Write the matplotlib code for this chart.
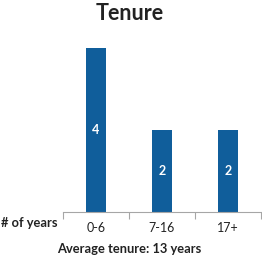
import matplotlib
matplotlib.use("Agg")
import matplotlib.pyplot as plt

categories = ["0-6", "7-16", "17+"]
counts = [4, 2, 2]
title = "Tenure"
ylabel_text = "# of years"
note = "Average tenure: 13 years"

plt.rcParams['font.family'] = ['Lato', 'DejaVu Sans']

fig = plt.figure(figsize=(2.62, 2.59), dpi=100)
ax = fig.add_axes([63 / 262, 47 / 259, 198 / 262, 164 / 259])

xs = range(len(categories))
bars = ax.bar(xs, counts, width=0.3, color="#105E9B")
for b, v in zip(bars, counts):
    ax.text(b.get_x() + b.get_width() / 2, v / 2, str(v),
            ha='center', va='center', color='white',
            fontsize=9, fontweight='bold')

ax.set_xlim(-0.5, 2.5)
ax.set_ylim(0, 4)
for s in ['top', 'right', 'left']:
    ax.spines[s].set_visible(False)
ax.spines['bottom'].set_color('#A6A6A6')
ax.spines['bottom'].set_linewidth(0.8)
ax.set_yticks([])

# category ticks sit between categories
ax.set_xticks([-0.5, 0.5, 1.5, 2.5])
ax.set_xticklabels([])
ax.tick_params(axis='x', direction='out', length=5, color='#A6A6A6', width=0.8)
ax.set_xticks(list(xs), minor=True)
ax.set_xticklabels(categories, minor=True, fontsize=9, color='#222222')
ax.tick_params(axis='x', which='minor', length=0, pad=7)

fig.text(130 / 262, 1 - 14 / 259, title, ha='center', va='center',
         fontsize=15.5, fontweight='bold', color='#222222')
fig.text(1 / 262, 1 - 223 / 259, ylabel_text, ha='left', va='center',
         fontsize=9.3, fontweight='bold', color='#222222')
fig.text(129 / 262, 1 - 249 / 259, note, ha='center', va='center',
         fontsize=9.3, fontweight='bold', color='#222222')

fig.savefig("out.png", dpi=100)
